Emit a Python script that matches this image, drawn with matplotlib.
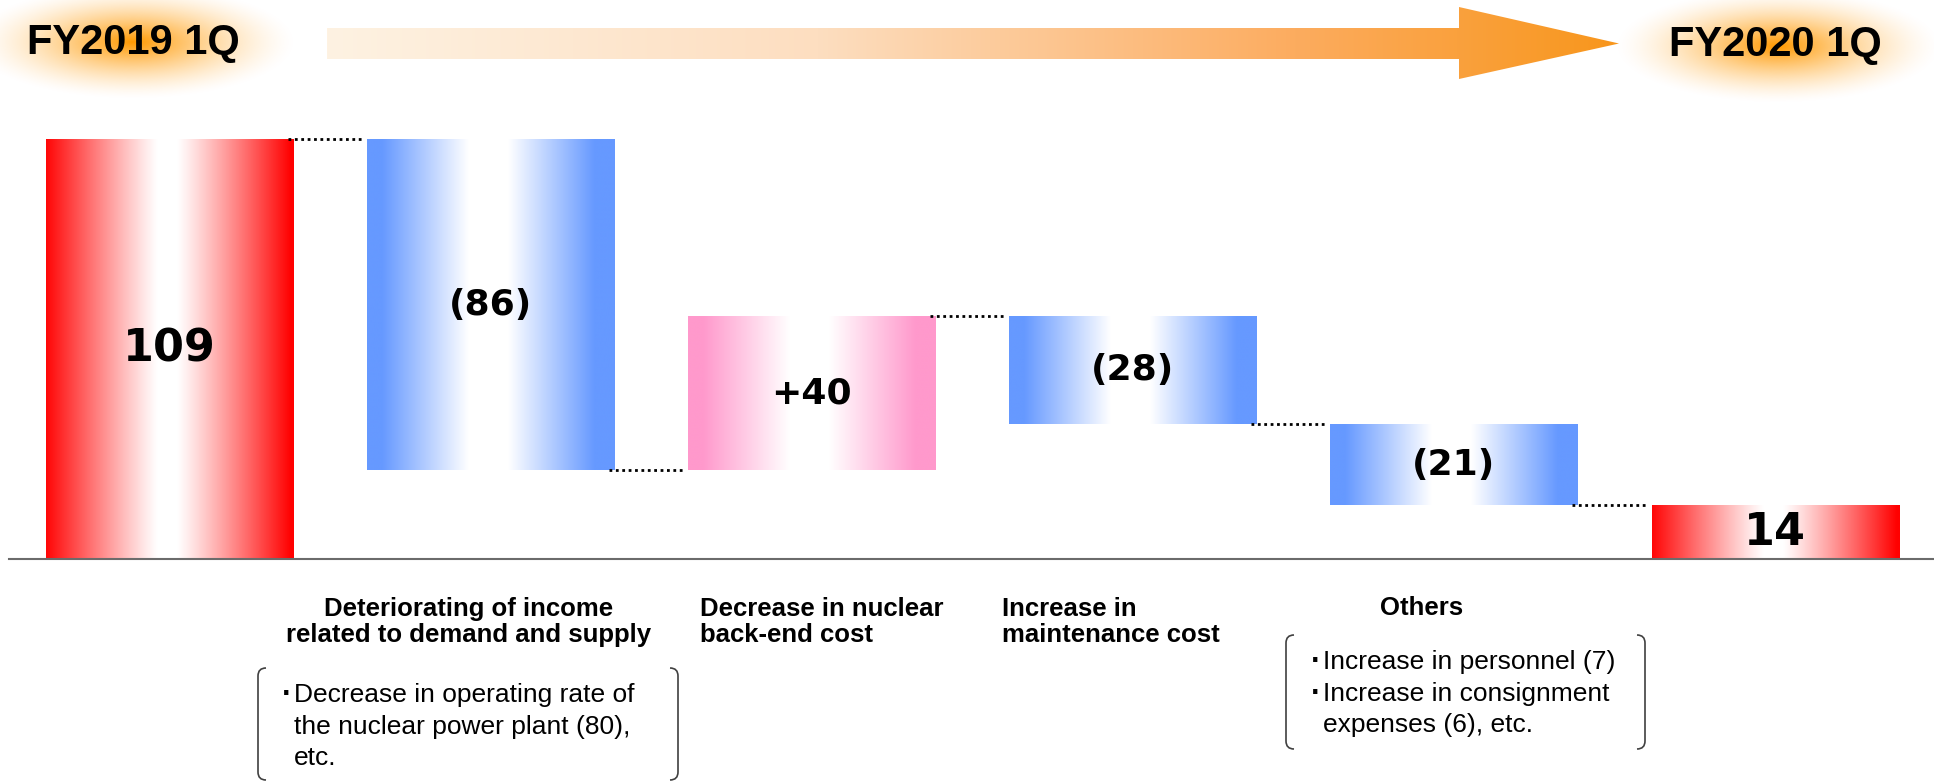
import numpy as np
import matplotlib.pyplot as plt
from matplotlib.path import Path
from matplotlib.patches import PathPatch, Polygon
from matplotlib.colors import to_rgb

plt.rcParams['font.family'] = ['Liberation Sans', 'Noto Sans CJK JP']

# ordinary income bridge, 100 million yen
start_label = "FY2019 1Q"
end_label = "FY2020 1Q"
start_value = 109
changes = [-86, 40, -28, -21]
end_value = 14
value_labels = ["109", "(86)", "+40", "(28)", "(21)", "14"]

cat_titles = ["Deteriorating of income\nrelated to demand and supply",
              "Decrease in nuclear\nback-end cost",
              "Increase in\nmaintenance cost",
              "Others"]

note_demand = ["Decrease in operating rate of",
               "the nuclear power plant (80),",
               "etc."]
note_demand_bullets = [0]
note_others = ["Increase in personnel (7)",
               "Increase in consignment",
               "expenses (6), etc."]
note_others_bullets = [0, 1]

# waterfall geometry from the values
bottoms, heights, kinds, levels = [0], [start_value], ["total"], [start_value]
run = start_value
for c in changes:
    bottoms.append(min(run, run + c))
    heights.append(abs(c))
    kinds.append("up" if c > 0 else "down")
    run += c
    levels.append(run)
bottoms.append(0)
heights.append(end_value)
kinds.append("total")

W, H = 1934, 782
fig = plt.figure(figsize=(W / 100, H / 100), dpi=100)

bg = fig.add_axes([0, 0, 1, 1])
bg.set_xlim(0, W)
bg.set_ylim(H, 0)
bg.axis('off')


def glow(cx, cy, rx, ry):
    gx = np.linspace(-1, 1, 240)
    gy = np.linspace(-1, 1, 120)
    xx, yy = np.meshgrid(gx, gy)
    r = np.sqrt(xx ** 2 + yy ** 2)
    img = np.zeros((120, 240, 4))
    img[..., 0] = 1.0
    img[..., 1] = 0.6
    img[..., 2] = 0.0
    img[..., 3] = np.clip(1 - r, 0, 1) ** 1.5
    bg.imshow(img, extent=[cx - rx, cx + rx, cy + ry, cy - ry],
              interpolation='bilinear', zorder=1)


glow(133, 42, 165, 58)
glow(1778, 46, 165, 58)
bg.text(133, 43, start_label, ha='center', va='center', fontsize=30, fontweight='bold', zorder=3)
bg.text(1775, 45, end_label, ha='center', va='center', fontsize=30, fontweight='bold', zorder=3)

# big progress arrow with orange gradient
arrow_pts = [(327, 28), (1459, 28), (1459, 7), (1619, 43.5), (1459, 79), (1459, 59), (327, 59)]
arrow = Polygon(arrow_pts, closed=True, facecolor='none', edgecolor='none')
bg.add_patch(arrow)
stops_t = [0.0, 0.38, 0.75, 1.0]
stops_c = np.array([(254, 242, 226), (253, 222, 192), (252, 172, 95), (248, 150, 28)]) / 255
t = np.linspace(0, 1, 512)
grad = np.stack([np.interp(t, stops_t, stops_c[:, k]) for k in range(3)], axis=-1)[None, :, :]
im = bg.imshow(grad, extent=[327, 1619, 79, 7], aspect='auto', interpolation='bilinear', zorder=2)
im.set_clip_path(arrow)
bg.set_xlim(0, W)
bg.set_ylim(H, 0)

# bars
ax = fig.add_axes([8.5 / W, (H - 559) / H, (1935.7 - 8.5) / W, (559 - 139.4) / H])
ax.patch.set_visible(False)
x = np.arange(len(heights))
bw = 0.769
bars = ax.bar(x, heights, bottom=bottoms, width=bw, color='none', edgecolor='none')

base_col = {"total": "#ff0000", "down": "#6699ff", "up": "#ff99cc"}


def bar_gradient(kind):
    tt = np.linspace(0, 1, 256)
    if kind == "total":
        w = np.clip((np.abs(tt - 0.49) - 0.04) / 0.46, 0, 1) ** 1.1
    else:
        w = np.clip((np.abs(tt - 0.49) - 0.08) / 0.35, 0, 1)
    c = np.array(to_rgb(base_col[kind]))
    return (1 - w[:, None]) + w[:, None] * c[None, :]


for rect, kind in zip(bars, kinds):
    x0, y0 = rect.get_x(), rect.get_y()
    ax.imshow(bar_gradient(kind)[None, :, :],
              extent=[x0, x0 + rect.get_width(), y0, y0 + rect.get_height()],
              aspect='auto', interpolation='bilinear', zorder=2)

for i, (rect, lbl) in enumerate(zip(bars, value_labels)):
    big = kinds[i] == "total"
    ax.text(rect.get_x() + rect.get_width() / 2, rect.get_y() + rect.get_height() / 2, lbl,
            ha='center', va='center', fontsize=32 if big else 26, fontweight='bold',
            family='DejaVu Sans', zorder=4)

# dotted connectors between bars
d = 5 / 321.2
for i, lv in enumerate(levels):
    ax.plot([x[i] + bw / 2 - d, x[i + 1] - bw / 2 - d], [lv, lv], color='#000000',
            lw=2.0, linestyle=(0, (1, 1.3)), dash_capstyle='butt', zorder=3, clip_on=False)

ax.set_xlim(-0.5, len(heights) - 0.5)
ax.set_ylim(0, start_value)
for s in ['top', 'right', 'left']:
    ax.spines[s].set_visible(False)
ax.spines['bottom'].set_color('#6b6b6b')
ax.spines['bottom'].set_linewidth(1.5)
ax.spines['bottom'].set_zorder(5)
ax.set_xticks([])
ax.set_yticks([])

# category titles under the change bars
bg.text(469, 622, cat_titles[0], ha='center', va='center', multialignment='center',
        fontsize=18.5, fontweight='bold', linespacing=1.15)
bg.text(700, 622, cat_titles[1], ha='left', va='center', fontsize=18.5, fontweight='bold', linespacing=1.15)
bg.text(1002, 622, cat_titles[2], ha='left', va='center', fontsize=18.5, fontweight='bold', linespacing=1.15)
bg.text(1422, 608, cat_titles[3], ha='center', va='center', fontsize=18.5, fontweight='bold')


def bracket_box(x0, x1, y0, y1, r=8):
    for side in (1, -1):
        xe = x0 if side == 1 else x1
        verts = [(xe + side * r, y0), (xe, y0), (xe, y0 + r), (xe, y1 - r), (xe, y1), (xe + side * r, y1)]
        codes = [Path.MOVETO, Path.CURVE3, Path.CURVE3, Path.LINETO, Path.CURVE3, Path.CURVE3]
        bg.add_patch(PathPatch(Path(verts, codes), facecolor='none', edgecolor='#404040', lw=1.2))


def note(lines, bullets, x_text, y_first, step=31.7):
    for k, line in enumerate(lines):
        y = y_first + k * step
        if k in bullets:
            bg.text(x_text - 2, y, "\u00b7", ha='right', va='center', fontsize=22,
                    fontweight='bold')
        bg.text(x_text, y, line, ha='left', va='center', fontsize=19)


bracket_box(258, 678, 668, 780)
note(note_demand, note_demand_bullets, 294, 695)
bracket_box(1286, 1645, 635, 749)
note(note_others, note_others_bullets, 1323, 662)

fig.savefig("out.png", dpi=100)
